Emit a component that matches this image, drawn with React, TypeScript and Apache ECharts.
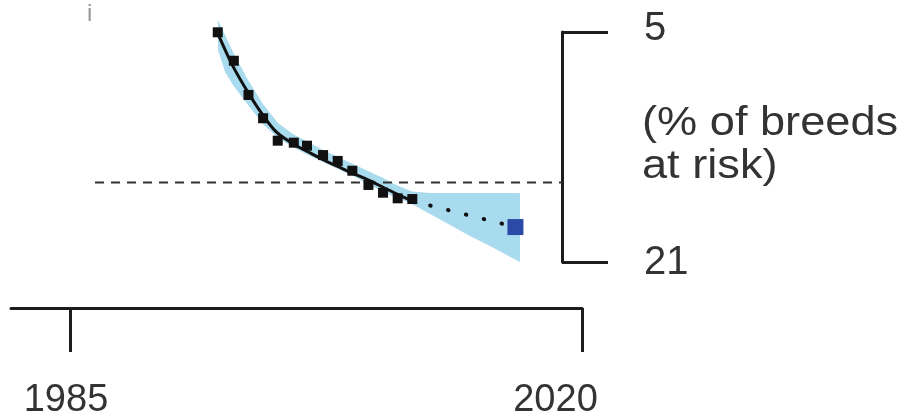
import React, { useEffect, useRef } from "react";
import * as echarts from "echarts";

// observed annual values (% of breeds at risk)
const obsYears = [1995.1, 1996.2, 1997.2, 1998.2, 1999.2, 2000.3, 2001.2, 2002.3, 2003.3, 2004.3, 2005.4, 2006.4, 2007.4, 2008.4];
const obsValues = [5.02, 7.0, 9.38, 11.0, 12.56, 12.7, 12.91, 13.56, 13.97, 14.65, 15.64, 16.18, 16.57, 16.62];

// fitted curve
const fitYears = [1995.1, 1996.1, 1997.2, 1998.2, 1999.1, 2000.2, 2001.3, 2002.3, 2003.3, 2004.3, 2005.4, 2006.4, 2007.4, 2008.4];
const fitValues = [5.09, 7.3, 9.25, 10.8, 11.95, 12.75, 13.35, 13.88, 14.35, 14.82, 15.3, 15.8, 16.3, 16.76];

// confidence band
const bandYears = [1995.12, 1995.6, 1996.14, 1997.17, 1998.19, 1999.22, 2000.24, 2001.27, 2002.29, 2003.32, 2004.35, 2005.37, 2006.4, 2007.42, 2008.38, 2009.61, 2010.98, 2012.34, 2013.71, 2015.76];
const bandUpper = [4.17, 5.21, 6.39, 8.34, 10.01, 11.33, 12.1, 12.65, 13.21, 13.7, 14.18, 14.67, 15.16, 15.7, 16.1, 16.2, 16.2, 16.2, 16.2, 16.2];
const bandLower = [6.25, 7.78, 8.69, 10.08, 11.4, 12.37, 13.0, 13.56, 14.04, 14.53, 15.02, 15.57, 16.13, 16.55, 16.97, 17.66, 18.43, 19.19, 19.89, 21.0];

// projection
const projYears = [2008.4, 2015.45];
const projValues = [16.76, 18.57];
const targetYear = [2015.45];
const targetValue = [18.57];

// threshold (dashed)
const thresholdYears = [1986.71, 2018.63];
const thresholdValue = 15.47;

// axis ticks
const xTicks = [1985, 2020];
const yTicks = [5, 21];
const yAxisTitle = "(% of breeds\nat risk)";

export default function App() {
  const ref = useRef<HTMLDivElement>(null);
  useEffect(() => {
    if (!ref.current) return;
    const chart = echarts.init(ref.current, undefined, { renderer: "svg" });
    const font = "Liberation Sans, Arial, sans-serif";
    const axisColor = "#1c1c1c";
    chart.setOption({
      animation: false,
      grid: { left: 11, right: 328, top: 32, bottom: 157 },
      xAxis: {
        type: "value",
        min: 1980.967,
        max: 2020,
        position: "bottom",
        offset: 46,
        splitLine: { show: false },
        axisLine: { show: true, onZero: false, lineStyle: { color: axisColor, width: 3 } },
        axisTick: { show: true, customValues: xTicks, length: 44, lineStyle: { color: axisColor, width: 3 } },
        axisLabel: {
          show: true,
          customValues: xTicks,
          margin: 75,
          color: "#333",
          fontFamily: font,
          fontSize: 38,
          formatter: (v: number) => (v === 2020 ? "{b|" + v + "}" : "{a|" + v + "}"),
          rich: {
            a: { fontSize: 38, fontFamily: font, color: "#333", lineHeight: 30, padding: [0, 8, 0, 0] },
            b: { fontSize: 38, fontFamily: font, color: "#333", lineHeight: 30, padding: [0, 53, 0, 0] },
          },
        },
      },
      yAxis: {
        type: "value",
        min: 5,
        max: 21,
        inverse: true,
        position: "right",
        offset: -20,
        splitLine: { show: false },
        axisLine: { show: true, onZero: false, lineStyle: { color: axisColor, width: 3 } },
        axisTick: { show: true, customValues: yTicks, inside: false, length: 46, lineStyle: { color: axisColor, width: 3 } },
        axisLabel: {
          show: true,
          customValues: yTicks,
          margin: 82,
          color: "#333",
          fontFamily: font,
          fontSize: 40,
          formatter: (v: number) => (v === 5 ? "{t|" + v + "}" : "{u|" + v + "}"),
          rich: {
            t: { fontSize: 40, fontFamily: font, color: "#333", lineHeight: 40, padding: [0, 0, 12, 0] },
            u: { fontSize: 40, fontFamily: font, color: "#333", lineHeight: 40, padding: [0, 0, 5, 0] },
          },
        },
      },
      graphic: [
        {
          type: "text",
          x: 642,
          y: 99,
          scaleX: 1.13,
          style: {
            text: yAxisTitle,
            font: "40px " + font,
            fill: "#333",
            lineHeight: 43,
            verticalAlign: "top",
            align: "left",
          },
        },
        {
          type: "text",
          x: 87,
          y: 0,
          style: { text: "i", font: "24px " + font, fill: "#999", verticalAlign: "top" },
        },
      ],
      series: [
        {
          type: "custom",
          data: bandYears.map((y, i) => [y, bandUpper[i], bandLower[i]]),
          clip: false,
          z: 1,
          silent: true,
          renderItem: (params: any, api: any) => {
            if (params.dataIndex !== 0) return null;
            const pts: number[][] = [];
            for (let i = 0; i < bandYears.length; i++) pts.push(api.coord([bandYears[i], bandUpper[i]]));
            for (let i = bandYears.length - 1; i >= 0; i--) pts.push(api.coord([bandYears[i], bandLower[i]]));
            return { type: "polygon", shape: { points: pts }, style: { fill: "#a9dbee" } };
          },
        },
        {
          type: "line",
          data: thresholdYears.map((y) => [y, thresholdValue]),
          symbol: "none",
          lineStyle: { color: "#333", width: 2, type: [9, 7] },
          z: 2,
        },
        {
          type: "line",
          data: fitYears.map((y, i) => [y, fitValues[i]]),
          symbol: "none",
          smooth: 0.3,
          lineStyle: { color: "#111", width: 3 },
          z: 3,
        },
        {
          type: "line",
          data: projYears.map((y, i) => [y, projValues[i]]),
          symbol: "none",
          lineStyle: { color: "#111", width: 4, type: [0.5, 17.9], cap: "round" },
          z: 3,
        },
        {
          type: "scatter",
          data: obsYears.map((y, i) => [y, obsValues[i]]),
          symbol: "rect",
          symbolSize: 10,
          itemStyle: { color: "#111", opacity: 1 },
          z: 4,
        },
        {
          type: "scatter",
          data: targetYear.map((y, i) => [y, targetValue[i]]),
          symbol: "rect",
          symbolSize: 16,
          itemStyle: { color: "#2b4aa8", opacity: 1 },
          z: 5,
        },
      ],
    });
    return () => chart.dispose();
  }, []);
  return <div ref={ref} style={{ position: "fixed", left: 0, top: 0, width: 910, height: 419 }} />;
}
